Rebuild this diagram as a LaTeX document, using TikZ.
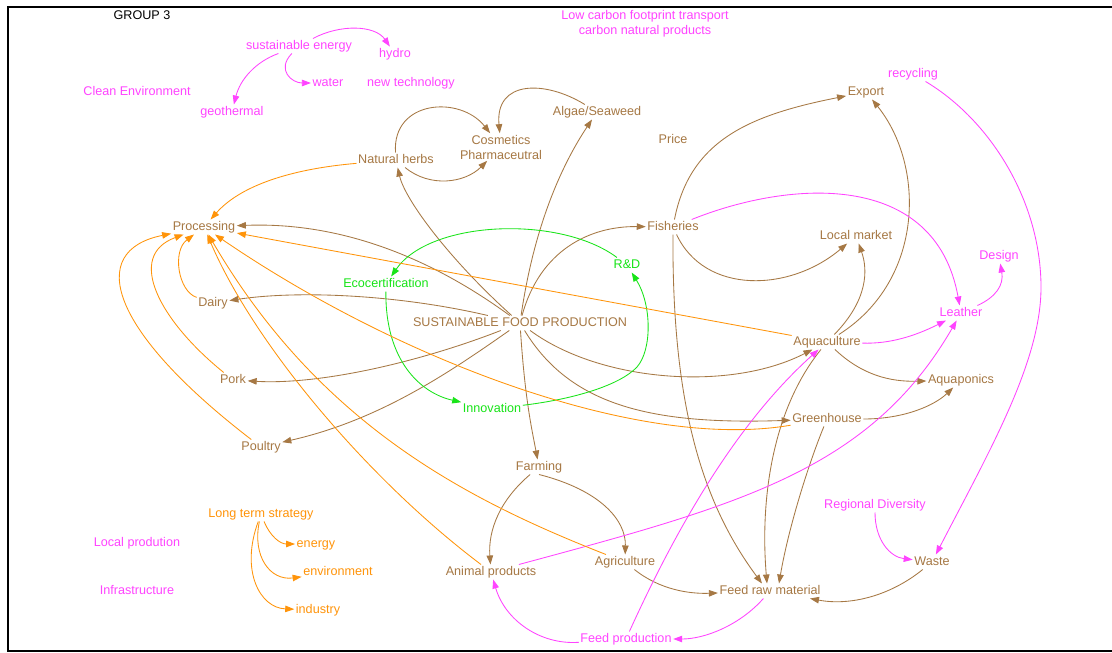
\documentclass[tikz,border=0pt]{standalone}
\usepackage{fontspec}
\setmainfont{Liberation Sans}
\usetikzlibrary{arrows.meta,calc}
\definecolor{brw}{RGB}{166,120,68}
\definecolor{org}{RGB}{255,148,10}
\definecolor{mag}{RGB}{255,68,255}
\definecolor{grn}{RGB}{24,228,24}
\begin{document}
\begin{tikzpicture}[x=1pt,y=-1pt,
  lblfont/.style={inner sep=1.5pt,font=\fontsize{12.6}{15}\selectfont},
  lbl/.style={lblfont, text height=9pt, text depth=2.6pt},
  txtb/.style={lbl,text=brw},
  txtm/.style={lbl,text=mag},
  txtg/.style={lbl,text=grn},
  txto/.style={lbl,text=org},
  link/.style={line width=0.85pt,-{Triangle[length=9pt,width=6.5pt]}},
  arrb/.style={link,brw},
  arrm/.style={link,mag},
  arrg/.style={link,grn},
  arro/.style={link,org}]
\useasboundingbox (0,0) rectangle (1112,653);
\fill[white] (0,0) rectangle (1112,653);
\draw[line width=2.5pt] (8,7) rectangle (1120,651);

% labels
\node[lbl] (gr3) at (142,16) {GROUP 3};
\node[txtm] (se) at (299,46) {sustainable energy};
\node[txtm] (hydro) at (395,54) {hydro};
\node[txtm] (water) at (328,83) {water};
\node[txtm] (newtech) at (411,83) {new technology};
\node[txtm] (clean) at (137,92) {Clean Environment};
\node[txtm] (geo) at (232,112) {geothermal};
\node[lblfont,text=mag,align=center] (lowc) at (645,24) {Low carbon footprint transport\\carbon natural products};
\node[txtm] (rec) at (913,74) {recycling};
\node[txtb] (exp) at (866,92) {Export};
\node[txtb] (algae) at (597,112) {Algae/Seaweed};
\node[lblfont,text=brw,align=center] (cosm) at (501,147) {Cosmetics\\Pharmaceutral};
\node[txtb] (nh) at (396,160) {Natural herbs};
\node[txtb] (price) at (673,140) {Price};
\node[txtb] (proc) at (204,227) {Processing};
\node[txtb] (fish) at (673,227) {Fisheries};
\node[txtb] (lm) at (856,236) {Local market};
\node[txtm] (design) at (999,256) {Design};
\node[txtg] (rnd) at (627,265) {R\&D};
\node[txtg] (eco) at (386,284) {Ecocertification};
\node[txtb] (dairy) at (213,303) {Dairy};
\node[txtm] (leather) at (961,313) {Leather};
\node[txtb] (sfp) at (520,323) {SUSTAINABLE FOOD PRODUCTION};
\node[txtb] (aqua) at (827,342) {Aquaculture};
\node[txtb] (pork) at (233,380) {Pork};
\node[txtb] (aquap) at (961,380) {Aquaponics};
\node[txtg] (innov) at (492,409) {Innovation};
\node[txtb] (gh) at (827,419) {Greenhouse};
\node[txtb] (poultry) at (261,447) {Poultry};
\node[txtb] (farm) at (539,467) {Farming};
\node[txtm] (rd) at (875,505) {Regional Diversity};
\node[txto] (lts) at (261,514) {Long term strategy};
\node[txtm] (lprod) at (137,543) {Local prodution};
\node[txto] (energy) at (316,544) {energy};
\node[txto] (env) at (338,572) {environment};
\node[txtb] (waste) at (932,562) {Waste};
\node[txtb] (ap) at (491,572) {Animal products};
\node[txtb] (agri) at (625,562) {Agriculture};
\node[txtm] (infra) at (137,591) {Infrastructure};
\node[txtb] (frm) at (770,591) {Feed raw material};
\node[txto] (industry) at (318,610) {industry};
\node[txtm] (fp) at (626,639) {Feed production};

% brown links
\draw[arrb] (sfp) .. controls (420,250) and (330,222) .. (proc);
\draw[arrb] (sfp) .. controls (450,260) and (405,200) .. (nh);
\draw[arrb] (sfp) .. controls (535,220) and (565,160) .. (algae);
\draw[arrb] (sfp) .. controls (540,250) and (590,226) .. (fish);
\draw[arrb] (sfp) .. controls (400,295) and (300,290) .. (dairy);
\draw[arrb] (sfp) .. controls (420,362) and (320,385) .. (pork);
\draw[arrb] (sfp) .. controls (450,372) and (380,420) .. (poultry);
\draw[arrb] (sfp) .. controls (525,400) and (532,430) .. (farm);
\draw[arrb] (sfp) .. controls (600,382) and (730,392) .. (aqua);
\draw[arrb] (sfp) .. controls (570,405) and (650,425) .. (gh);
\draw[arrb] (nh) .. controls (392,100) and (460,95) .. (cosm);
\draw[arrb] (nh) .. controls (430,188) and (465,183) .. (cosm);
\draw[arrb] (algae) .. controls (545,80) and (495,80) .. (cosm);
\draw[arrb] (fish) .. controls (690,140) and (750,115) .. (exp);
\draw[arrb] (fish) .. controls (705,295) and (790,292) .. (lm);
\draw[arrb] (fish) .. controls (672,400) and (700,500) .. ($(frm.north)+(-8,0)$);
\draw[arrb] (aqua) .. controls (868,300) and (868,270) .. (lm);
\draw[arrb] (aqua) .. controls (925,280) and (925,165) .. (exp);
\draw[arrb] (aqua) .. controls (862,375) and (890,382) .. (aquap);
\draw[arrb] (aqua) .. controls (772,410) and (760,500) .. ($(frm.north)+(-3,0)$);
\draw[arrb] (gh) .. controls (808,465) and (788,530) .. ($(frm.north)+(9,0)$);
\draw[arrb] (gh) .. controls (905,419) and (935,405) .. (aquap);
\draw[arrb] (farm) .. controls (500,500) and (488,530) .. (ap);
\draw[arrb] (farm.south) .. controls (600,490) and (626,520) .. (agri);
\draw[arrb] (agri) .. controls (660,590) and (690,594) .. (frm);
\draw[arrb] (waste) .. controls (890,596) and (850,606) .. (frm);

% magenta links
\draw[arrm] (se) .. controls (340,24) and (375,25) .. (hydro);
\draw[arrm] (se) .. controls (276,70) and (292,83) .. (water);
\draw[arrm] (se) .. controls (255,62) and (240,80) .. (geo);
\draw[arrm] (rec) .. controls (990,120) and (1040,200) .. (1041,285)
  .. controls (1042,360) and (990,450) .. (waste);
\draw[arrm] (fish) .. controls (790,180) and (935,170) .. (leather);
\draw[arrm] (aqua) .. controls (890,344) and (915,336) .. (leather);
\draw[arrm] (leather) .. controls (996,297) and (1004,285) .. (design);
\draw[arrm] (ap) .. controls (740,505) and (870,470) .. (leather);
\draw[arrm] (fp) .. controls (680,520) and (740,420) .. (aqua);
\draw[arrm] (frm) .. controls (740,625) and (705,639) .. (fp);
\draw[arrm] (fp) .. controls (540,645) and (505,620) .. (ap);
\draw[arrm] (rd) .. controls (875,540) and (890,557) .. (waste);

% green links
\draw[arrg] (rnd) .. controls (560,215) and (430,220) .. (eco);
\draw[arrg] (eco) .. controls (385,360) and (420,393) .. (innov);
\draw[arrg] (innov) .. controls (575,399) and (620,385) .. (637,367)
  .. controls (652,350) and (652,305) .. (rnd);

% orange links
\draw[arro] (nh) .. controls (290,169) and (240,186) .. (proc);
\draw[arro] (aqua) -- (proc);
\draw[arro] (dairy) .. controls (178,291) and (172,251) .. (proc);
\draw[arro] (pork) .. controls (160,321) and (125,256) .. (proc);
\draw[arro] (poultry) .. controls (110,331) and (85,251) .. (proc);
\draw[arro] (ap) .. controls (370,481) and (255,346) .. (proc);
\draw[arro] (agri) .. controls (470,501) and (320,426) .. (proc);
\draw[arro] (gh) .. controls (640,451) and (400,361) .. (proc);
\draw[arro] (lts) .. controls (270,536) and (280,544) .. (energy);
\draw[arro] (lts) .. controls (252,556) and (270,581) .. (env);
\draw[arro] (lts) .. controls (240,571) and (260,608) .. (industry);
\end{tikzpicture}
\end{document}
